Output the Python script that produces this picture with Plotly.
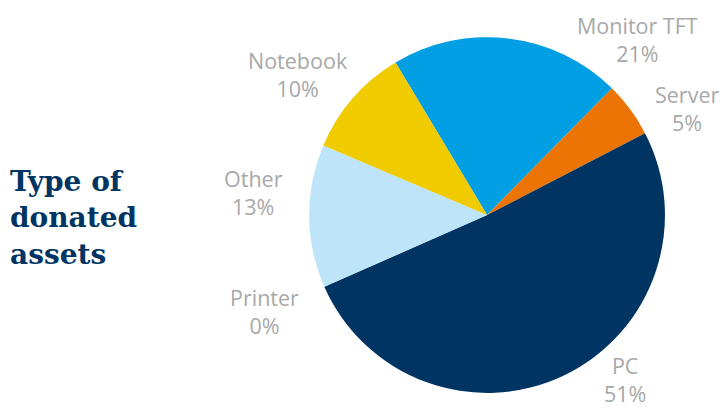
import plotly.graph_objects as go

# Donated asset categories, in clockwise drawing order
categories = ["Monitor TFT", "Server", "PC", "Printer", "Other", "Notebook"]
shares = [21, 5, 51, 0, 13, 10]
colors = ["#009FE3", "#EC7405", "#003462", "#7F7F7F", "#BEE4F9", "#F0CB00"]

# Label anchor points (paper coords) for each category's outside label
label_pos = {
    "Monitor TFT": (0.885, 0.902),
    "Server": (0.954, 0.735),
    "PC": (0.868, 0.070),
    "Printer": (0.368, 0.237),
    "Other": (0.352, 0.527),
    "Notebook": (0.414, 0.817),
}

total = sum(shares)

fig = go.Figure(
    go.Pie(
        labels=categories,
        values=shares,
        marker=dict(colors=colors, line=dict(width=0)),
        sort=False,
        direction="clockwise",
        rotation=-31,
        textinfo="none",
        hoverinfo="label+percent",
        showlegend=False,
        domain=dict(x=[0.429, 0.924], y=[0.037, 0.909]),
    )
)

for name, val in zip(categories, shares):
    x, y = label_pos[name]
    fig.add_annotation(
        x=x, y=y, xref="paper", yref="paper",
        text=f"{name}<br>{val / total * 100:.0f}%",
        showarrow=False, xanchor="center", yanchor="middle",
        font=dict(family="Open Sans", size=21.5, color="#A8A8A8"),
    )

fig.add_annotation(
    x=0.011, y=0.465, xref="paper", yref="paper",
    text="<b>Type of<br>donated<br>assets</b>",
    showarrow=False, xanchor="left", yanchor="middle", align="left",
    font=dict(family="DejaVu Serif", size=28, color="#003462"),
)

fig.update_layout(
    width=720, height=408,
    margin=dict(l=0, r=0, t=0, b=0),
    paper_bgcolor="white", plot_bgcolor="white",
)

fig.write_html("out.html")
